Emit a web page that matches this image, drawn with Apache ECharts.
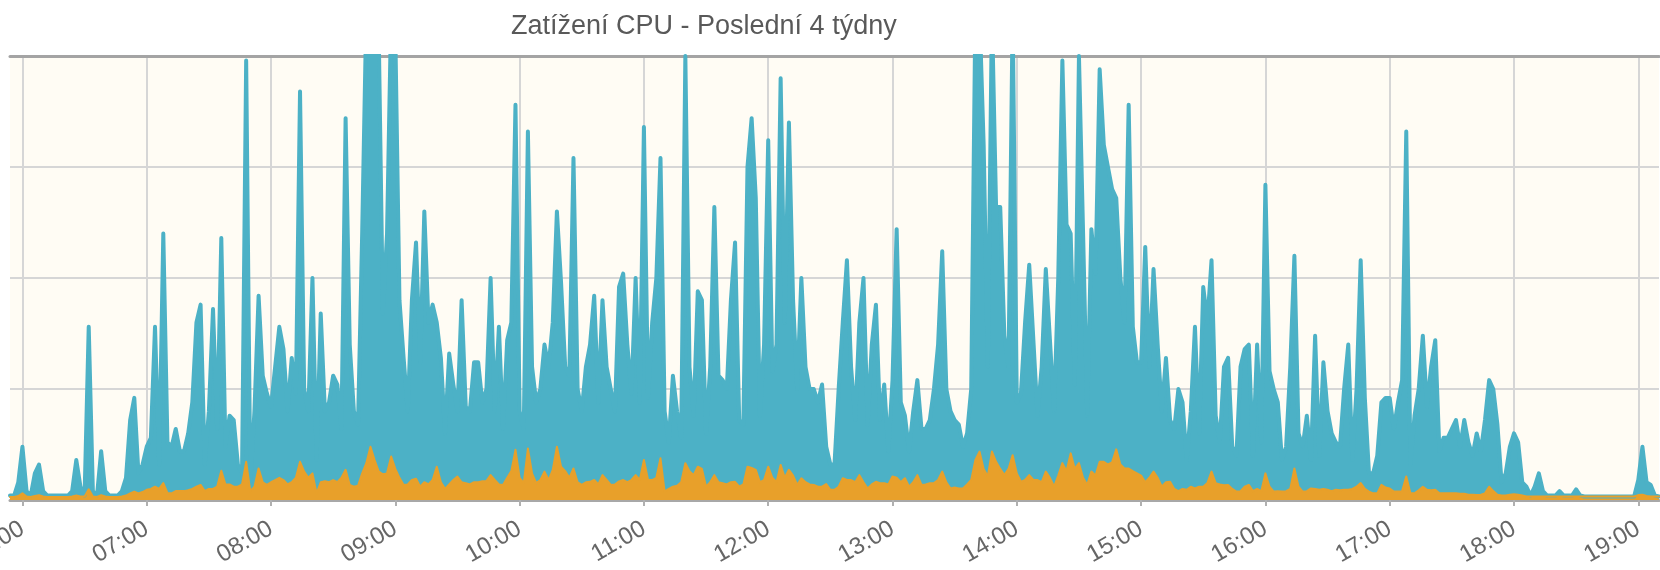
<!DOCTYPE html>
<html>
<head>
<meta charset="utf-8">
<script src="https://cdn.jsdelivr.net/npm/echarts@6/dist/echarts.min.js"></script>
<style>
html,body{margin:0;padding:0;background:#fff;}
#chart{width:1660px;height:570px;}
</style>
</head>
<body>
<div id="chart"></div>
<script>
// 2-minute samples from 05:54 to 19:10
const startMinutes = 5 * 60 + 54;
const stepMinutes = 2;

const cpuLoad = [
1, 1, 4, 12, 2, 1, 6, 8, 2, 1,
1, 1, 1, 1, 1, 2, 9, 3, 1, 39,
2, 1, 11, 2, 1, 1, 1, 2, 5, 18,
23, 6, 8, 12, 14, 39, 8, 60, 13, 12,
16, 11, 11, 15, 22, 40, 44, 8, 20, 43,
16, 59, 12, 19, 18, 8, 6, 99, 4, 20,
46, 28, 24, 21, 30, 39, 34, 20, 32, 24,
92, 25, 20, 50, 9, 42, 20, 22, 28, 26,
16, 86, 35, 20, 17, 60, 110, 110, 110, 105,
42, 60, 110, 105, 45, 32, 20, 45, 58, 31,
65, 40, 44, 40, 32, 15, 33, 26, 20, 45,
21, 20, 31, 31, 22, 25, 50, 20, 39, 16,
36, 40, 89, 20, 16, 83, 30, 22, 25, 35,
30, 40, 65, 49, 30, 28, 77, 25, 20, 30,
35, 46, 22, 45, 30, 25, 20, 48, 51, 35,
24, 50, 22, 84, 23, 40, 50, 77, 20, 13,
28, 20, 14, 100, 30, 19, 47, 45, 15, 30,
66, 28, 27, 25, 45, 58, 18, 17, 75, 86,
68, 19, 35, 81, 29, 35, 95, 40, 85, 45,
25, 50, 30, 25, 25, 22, 26, 12, 8, 8,
25, 40, 54, 30, 18, 40, 50, 17, 35, 44,
18, 26, 11, 27, 61, 22, 19, 11, 20, 27,
16, 16, 18, 25, 35, 56, 25, 20, 18, 17,
12, 15, 25, 110, 110, 80, 30, 110, 66, 66,
37, 30, 110, 22, 24, 40, 53, 36, 19, 30,
52, 36, 20, 50, 99, 62, 60, 26, 100, 60,
19, 61, 51, 97, 80, 75, 70, 68, 50, 40,
89, 39, 31, 31, 57, 30, 52, 35, 20, 32,
18, 16, 25, 22, 9, 20, 39, 15, 48, 40,
54, 19, 13, 30, 32, 12, 10, 30, 34, 35,
10, 35, 13, 71, 29, 25, 22, 9, 12, 30,
55, 15, 12, 19, 9, 37, 10, 31, 20, 15,
13, 12, 25, 35, 9, 25, 54, 23, 6, 6,
10, 22, 23, 23, 16, 22, 27, 83, 8, 19,
25, 37, 21, 30, 36, 11, 14, 14, 16, 18,
12, 18, 13, 10, 15, 11, 18, 27, 25, 17,
4, 6, 12, 15, 13, 4, 3, 1, 3, 6,
2, 1, 1, 1, 2, 1, 1, 1, 2.4, 1,
0.8, 0.8, 0.8, 0.8, 0.8, 0.8, 0.8, 0.8, 0.8, 0.8,
0.8, 0.8, 0.8, 4.5, 12, 4, 3.4, 1, 0.8
];

const cpuLoadBase = [
0.7, 0.7, 0.9, 1.5, 0.8, 0.7, 0.9, 1.1, 0.8, 0.7,
0.7, 0.7, 0.7, 0.7, 0.7, 0.8, 1, 0.8, 0.8, 2.4,
0.8, 0.7, 1.1, 0.8, 0.7, 0.7, 0.7, 0.8, 1, 1.5,
1.9, 1.5, 1.8, 2.3, 2.5, 3, 2.5, 3.8, 1.6, 1.5,
2, 2, 2, 2.2, 2.5, 3, 3.4, 2, 2.5, 2.5,
3, 6.6, 3.5, 3.5, 3, 3, 3.5, 8.6, 2, 3,
7.1, 4, 3.4, 4, 4.5, 5, 4.5, 3.5, 4, 5,
8.6, 6.4, 5, 6, 1.5, 4, 4.2, 4, 4.5, 4,
5, 6.8, 3.4, 3, 3.2, 6, 8.3, 12, 9, 6.4,
5.8, 6, 9.8, 7, 5, 3.4, 3.5, 4.5, 4.8, 3,
4, 3.5, 4.5, 7.5, 4, 2.5, 3.5, 4.5, 5.3, 4,
3.8, 3.5, 4, 4, 4.2, 4.3, 5.6, 4.5, 3.5, 3.4,
5, 6.5, 11.3, 5, 3.8, 11.6, 6, 3.8, 4.5, 6.4,
4.5, 6.8, 12, 7.5, 6.5, 5, 7.1, 4, 3.4, 4,
4.1, 4.5, 3.5, 5.6, 4.5, 3.4, 3.5, 4.2, 4.5, 4,
4.5, 5.6, 4.5, 9, 4.5, 4.5, 5, 9.4, 1.9, 2.5,
3, 3.2, 4, 8.3, 6.5, 5.6, 7.5, 7, 3, 4,
5.6, 4, 3.8, 3.5, 4, 4.1, 3, 3.5, 7.5, 7.2,
6.8, 4, 4.5, 7.5, 5, 4, 7.9, 5, 6.8, 5.5,
3.4, 4.9, 4, 3.5, 3.4, 3, 3, 3.6, 2.3, 2.3,
3, 4.9, 4.5, 4.5, 4, 5.6, 4, 2.6, 3.5, 4.1,
3.8, 3.8, 3.5, 5.3, 5, 4, 4.9, 3, 4, 5.6,
3.4, 3.5, 3.8, 3.8, 4.5, 6.4, 4, 2.6, 2.8, 2.6,
2.6, 3.5, 4.5, 9, 10.9, 7, 5.3, 10.9, 8.6, 7,
5.6, 7, 10.1, 6, 4.1, 4.5, 5.6, 4.5, 4.5, 4,
6.4, 5, 3, 5.5, 8.3, 6.5, 10.5, 7, 8.3, 5,
3.4, 6.4, 5.5, 8.6, 8.6, 8, 8.5, 11.4, 8, 7.1,
7.1, 6.5, 6, 5.5, 4, 5, 6.4, 5, 3, 4,
4.1, 2.5, 2, 2.5, 2.3, 3, 2.6, 3, 3, 3.8,
6.4, 3.8, 3.5, 3.3, 3.4, 2.5, 1.9, 2, 3, 3.4,
2, 2.5, 2, 6, 3, 1.9, 2, 1.9, 2, 2.5,
7.1, 3, 1.9, 2, 2.6, 2.5, 2.3, 2.5, 2.3, 2,
2.3, 2.2, 2.3, 2.3, 2.5, 3, 3.8, 2.5, 1.9, 1.5,
1.5, 3.4, 2.8, 2.6, 1.9, 1.9, 2, 5.3, 1.5, 1.5,
2.2, 3, 2.3, 2.2, 2.3, 1.5, 1.5, 1.5, 1.5, 1.5,
1.4, 1.4, 1.2, 1.2, 1.1, 1.2, 1.5, 3, 2, 1.2,
1, 1, 1.2, 1.3, 1.2, 1, 0.8, 0.8, 0.8, 0.8,
0.8, 0.8, 0.8, 0.8, 0.8, 0.8, 0.8, 0.8, 0.8, 0.8,
0.8, 0.8, 0.8, 0.8, 0.8, 0.8, 0.8, 0.8, 0.8, 0.8,
0.8, 0.8, 0.8, 1.1, 1.2, 0.9, 0.8, 0.8, 0.8
];

const titleText = 'Zatížení CPU - Poslední 4 týdny';

const categories = cpuLoad.map((_, i) => {
  const t = startMinutes + i * stepMinutes;
  const h = Math.floor(t / 60), m = t % 60;
  return String(h).padStart(2, '0') + ':' + String(m).padStart(2, '0');
});
const isHour = (idx) => categories[idx] && categories[idx].endsWith(':00');

const chart = echarts.init(document.getElementById('chart'), null, {renderer: 'canvas'});
chart.setOption({
  animation: false,
  backgroundColor: '#ffffff',
  title: {
    text: titleText,
    left: 506,
    top: 8,
    textStyle: {fontFamily: 'Liberation Sans', fontSize: 27, fontWeight: 'normal', color: '#595959'}
  },
  grid: {
    left: 10, right: 1, top: 56, bottom: 70,
    containLabel: false,
    outerBoundsMode: 'none',
    show: true, backgroundColor: '#fffcf4', borderWidth: 0
  },
  xAxis: [{
    type: 'category',
    data: categories,
    boundaryGap: false,
    axisLine: {lineStyle: {color: '#a8a8a8', width: 3}},
    axisTick: {show: true, interval: (i) => isHour(i), length: 6, lineStyle: {color: '#b0b0b0', width: 2}},
    axisLabel: {
      interval: (i) => isHour(i),
      rotate: 30,
      margin: 27,
      fontFamily: 'Liberation Sans',
      fontSize: 24,
      color: '#666666'
    },
    splitLine: {show: true, interval: (i) => isHour(i), lineStyle: {color: '#d6d6d6', width: 2}}
  }, {
    type: 'category',
    data: categories,
    boundaryGap: false,
    position: 'top',
    axisLine: {lineStyle: {color: '#a4a4a4', width: 3}},
    axisTick: {show: false},
    axisLabel: {show: false},
    splitLine: {show: false}
  }],
  yAxis: {
    type: 'value',
    min: 0, max: 100, interval: 25,
    axisLine: {show: false},
    axisTick: {show: false},
    axisLabel: {show: false},
    splitLine: {lineStyle: {color: '#d6d6d6', width: 2}}
  },
  series: [{
    name: 'CPU',
    type: 'line',
    data: cpuLoad,
    showSymbol: false,
    clip: true,
    lineStyle: {color: '#4cb1c6', width: 4, cap: 'round', join: 'round'},
    itemStyle: {color: '#4cb1c6'},
    areaStyle: {color: '#4cb1c6', opacity: 1}
  }, {
    name: 'CPU base',
    type: 'line',
    data: cpuLoadBase,
    showSymbol: false,
    clip: true,
    lineStyle: {color: '#e8a02a', width: 2, cap: 'round', join: 'round'},
    itemStyle: {color: '#e8a02a'},
    areaStyle: {color: '#e8a02a', opacity: 1}
  }]
});
</script>
</body>
</html>
